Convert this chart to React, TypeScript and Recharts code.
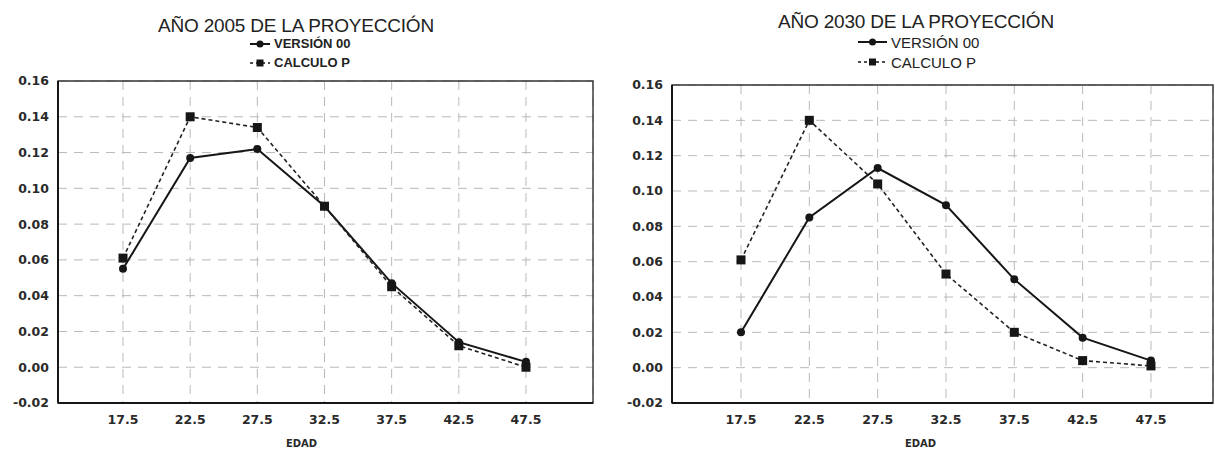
import { CartesianGrid, Label, Legend, Line, LineChart, ReferenceArea, XAxis, YAxis } from 'recharts'

// edades (marca de clase) y tasas
const edades = [17.5, 22.5, 27.5, 32.5, 37.5, 42.5, 47.5]
const version2005 = [0.055, 0.117, 0.122, 0.09, 0.047, 0.014, 0.003]
const calculo2005 = [0.061, 0.14, 0.134, 0.09, 0.045, 0.012, 0.0]
const version2030 = [0.02, 0.085, 0.113, 0.092, 0.05, 0.017, 0.004]
const calculo2030 = [0.061, 0.14, 0.104, 0.053, 0.02, 0.004, 0.001]
const yTicks = [-0.02, 0, 0.02, 0.04, 0.06, 0.08, 0.1, 0.12, 0.14, 0.16]
const seriesNames = ['VERSIÓN 00', 'CALCULO P']

const INK = '#161616'
const TICK_FONT = { fontFamily: 'DejaVu Sans', fontWeight: 700, fontSize: 12.5, fill: '#2a2a2a' }

interface Row {
  edad: number
  version: number
  calculo: number
}

function buildRows(version: number[], calculo: number[]): Row[] {
  return edades.map((edad, i) => ({ edad, version: version[i], calculo: calculo[i] }))
}

function SquareDot(props: any) {
  const { cx, cy } = props
  if (cx == null || cy == null) return null
  return <rect x={cx - 4.5} y={cy - 4.5} width={9} height={9} fill={INK} />
}

interface LegendStyle {
  fontSize: number
  fontWeight: number
  iconWidth: number
  rowHeight: number
}

function makeLegend(style: LegendStyle) {
  return function LegendContent(props: any) {
    // keep the series order (version first), whatever order recharts hands over
    const payload = [...(props.payload || [])].sort(
      (a: any, b: any) => seriesNames.indexOf(a.value) - seriesNames.indexOf(b.value),
    )
    return (
      <div>
        {payload.map((entry: any) => {
          const dashed = entry.type === 'square'
          const w = style.iconWidth
          return (
            <div
              key={entry.value}
              style={{ display: 'flex', alignItems: 'center', height: style.rowHeight, whiteSpace: 'nowrap' }}
            >
              <svg width={w} height={10} style={{ marginRight: 4 }}>
                <line
                  x1={0}
                  y1={5}
                  x2={w}
                  y2={5}
                  stroke={INK}
                  strokeWidth={dashed ? 1.5 : 2}
                  strokeDasharray={dashed ? '3 3' : undefined}
                />
                {dashed ? (
                  <rect x={w / 2 - 3.5} y={1.5} width={7} height={7} fill={INK} />
                ) : (
                  <circle cx={w / 2} cy={5} r={3.5} fill={INK} />
                )}
              </svg>
              <span
                style={{
                  fontFamily: 'Liberation Sans',
                  fontSize: style.fontSize,
                  fontWeight: style.fontWeight,
                  color: '#222',
                }}
              >
                {entry.value}
              </span>
            </div>
          )
        })}
      </div>
    )
  }
}

interface PanelProps {
  title: string
  version: number[]
  calculo: number[]
  left: number
  width: number
  margin: { top: number; right: number; bottom: number; left: number }
  xDomain: [number, number]
  titleCenter: number
  titleTop: number
  legendPos: { left: number; top: number }
  legendStyle: LegendStyle
  labelDx: number
}

function Panel(p: PanelProps) {
  const data = buildRows(p.version, p.calculo)
  return (
    <div style={{ position: 'absolute', left: p.left, top: 0, width: p.width, height: 449 }}>
      <div
        style={{
          position: 'absolute',
          left: p.titleCenter - p.left - 200,
          top: p.titleTop,
          width: 400,
          textAlign: 'center',
          fontFamily: 'Liberation Sans',
          fontSize: 19,
          lineHeight: '19px',
          letterSpacing: -0.2,
          color: '#222',
        }}
      >
        {p.title}
      </div>
      <LineChart width={p.width} height={449} data={data} margin={p.margin}>
        <CartesianGrid stroke="#b9b9b9" strokeDasharray="9 7" />
        <XAxis
          dataKey="edad"
          type="number"
          domain={p.xDomain}
          ticks={edades}
          allowDataOverflow
          height={46}
          tickSize={0}
          tickMargin={12}
          tick={TICK_FONT}
          axisLine={{ stroke: INK, strokeWidth: 2 }}
        >
          <Label
            value="EDAD"
            position="insideBottom"
            offset={2}
            dx={p.labelDx}
            style={{ fontFamily: 'DejaVu Sans', fontWeight: 700, fontSize: 10, fill: '#2a2a2a' }}
          />
        </XAxis>
        <YAxis
          type="number"
          domain={[-0.02, 0.16]}
          ticks={yTicks}
          allowDataOverflow
          width={50}
          tickSize={0}
          tickMargin={9}
          tick={TICK_FONT}
          tickFormatter={(v: number) => v.toFixed(2)}
          axisLine={{ stroke: INK, strokeWidth: 2 }}
        />
        <ReferenceArea
          x1={p.xDomain[0]}
          x2={p.xDomain[1]}
          y1={-0.02}
          y2={0.16}
          fill="none"
          stroke="#333"
          strokeWidth={1.4}
        />
        <Legend
          layout="horizontal"
          verticalAlign="middle"
          align="center"
          itemSorter={null}
          content={makeLegend(p.legendStyle)}
          wrapperStyle={{ left: p.legendPos.left - p.left, top: p.legendPos.top, width: 160 }}
        />
        <Line
          dataKey="version"
          name={seriesNames[0]}
          legendType="circle"
          stroke={INK}
          strokeWidth={2}
          dot={{ r: 4, fill: INK, stroke: INK, strokeWidth: 0 }}
          isAnimationActive={false}
        />
        <Line
          dataKey="calculo"
          name={seriesNames[1]}
          legendType="square"
          stroke="#222"
          strokeWidth={1.6}
          strokeDasharray="4 3"
          dot={<SquareDot />}
          isAnimationActive={false}
        />
      </LineChart>
    </div>
  )
}

export default function App() {
  return (
    <div style={{ position: 'fixed', left: 0, top: 0, width: 1215, height: 449, background: '#fff', overflow: 'hidden' }}>
      <Panel
        title="AÑO 2005 DE LA PROYECCIÓN"
        version={version2005}
        calculo={calculo2005}
        left={0}
        width={600}
        margin={{ top: 81, right: 7, bottom: 0, left: 8 }}
        xDomain={[12.66, 52.49]}
        titleCenter={296}
        titleTop={16}
        legendPos={{ left: 250, top: 34 }}
        legendStyle={{ fontSize: 13, fontWeight: 700, iconWidth: 20, rowHeight: 19 }}
        labelDx={-24}
      />
      <Panel
        title="AÑO 2030 DE LA PROYECCIÓN"
        version={version2030}
        calculo={calculo2030}
        left={600}
        width={615}
        margin={{ top: 85, right: 2, bottom: 0, left: 22 }}
        xDomain={[12.45, 52.04]}
        titleCenter={916}
        titleTop={12}
        legendPos={{ left: 858, top: 32 }}
        legendStyle={{ fontSize: 15, fontWeight: 400, iconWidth: 29, rowHeight: 20 }}
        labelDx={-22}
      />
    </div>
  )
}
